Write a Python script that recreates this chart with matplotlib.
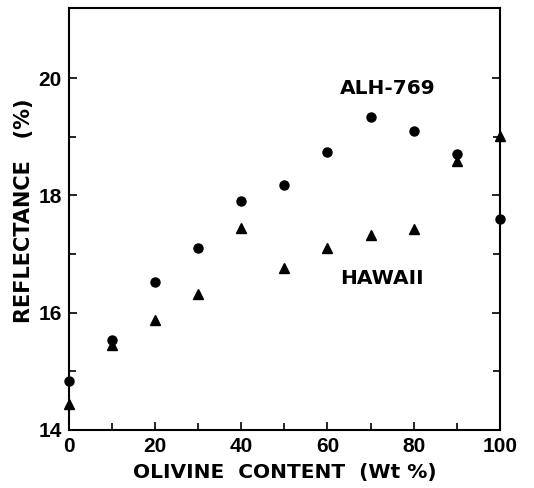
import matplotlib.pyplot as plt
import numpy as np

# olivine content (wt %) and reflectance (%)
olivine = [0, 10, 20, 30, 40, 50, 60, 70, 80, 90, 100]
alh769 = [14.83, 15.53, 16.52, 17.10, 17.91, 18.17, 18.74, 19.33, 19.10, 18.70, 17.60]
hawaii = [14.45, 15.45, 15.88, 16.32, 17.44, 16.77, 17.10, 17.33, 17.43, 18.59, 19.02]

x_ticks = [0, 20, 40, 60, 80, 100]
y_ticks = [14, 16, 18, 20]

plt.rcParams['font.family'] = ['Liberation Sans', 'DejaVu Sans']
plt.rcParams['font.weight'] = 'bold'
wide = ['DejaVu Sans']

fig = plt.figure(figsize=(5.34, 4.88), dpi=100)
ax = fig.add_axes([0.129, 0.119, 0.807, 0.865])

ax.plot(olivine, alh769, 'o', color='black', markersize=6.5, clip_on=False, zorder=3)
ax.plot(olivine, hawaii, '^', color='black', markersize=7, clip_on=False, zorder=3)

ax.set_xlim(0, 100)
ax.set_ylim(14, 21.2)
ax.set_xticks(x_ticks)
ax.set_xticks(np.arange(0, 101, 10), minor=True)
ax.set_yticks(y_ticks)
ax.set_yticks(np.arange(14, 21, 1), minor=True)

for s in ax.spines.values():
    s.set_linewidth(1.5)

ax.tick_params(which='both', direction='in', width=1.2, labelsize=15,
               right=True, top=False, pad=5)
ax.tick_params(which='major', length=6)
ax.tick_params(which='minor', length=5)

ax.set_xlabel('OLIVINE  CONTENT  (Wt %)', fontsize=14.5, fontweight='bold',
              family=wide, labelpad=5)
ax.set_ylabel('REFLECTANCE   (%)', fontsize=15, fontweight='bold',
              family=wide)
ax.yaxis.set_label_coords(-0.082, 0.52)

ax.text(62.9, 19.83, 'ALH-769', fontsize=14.5, fontweight='bold', family=wide,
        va='center')
ax.text(62.9, 16.58, 'HAWAII', fontsize=14.5, fontweight='bold', family=wide,
        va='center')

fig.savefig('out.png', dpi=100)
